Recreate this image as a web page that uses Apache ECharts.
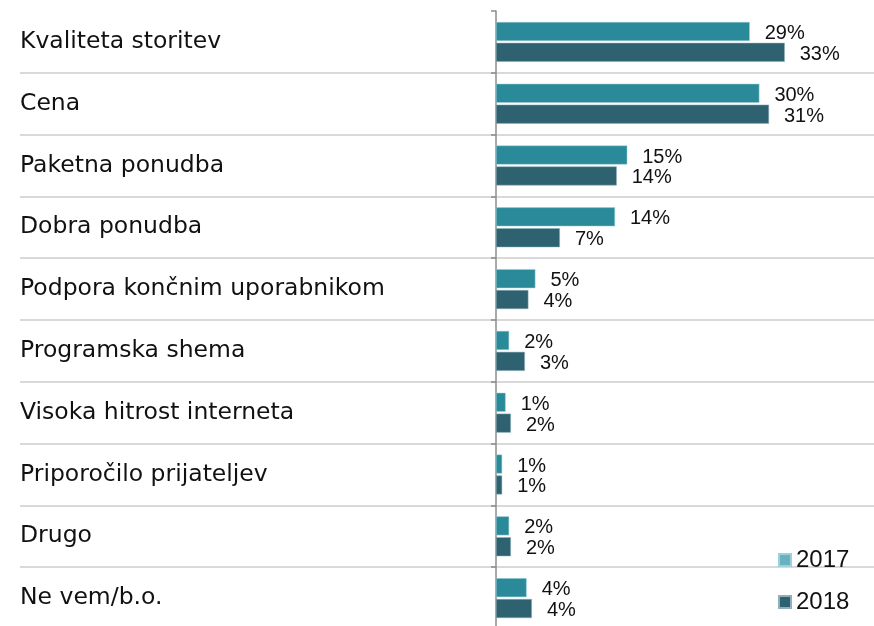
<!DOCTYPE html>
<html>
<head>
<meta charset="utf-8">
<script src="https://cdn.jsdelivr.net/npm/echarts@6/dist/echarts.min.js"></script>
<style>
  html, body { margin: 0; padding: 0; background: #fff; }
  #chart { width: 874px; height: 626px; }
</style>
</head>
<body>
<div id="chart"></div>
<script>
// kategorije in vrednosti (odčitano s slike)
var categories = ['Kvaliteta storitev', 'Cena', 'Paketna ponudba', 'Dobra ponudba',
    'Podpora končnim uporabnikom', 'Programska shema', 'Visoka hitrost interneta',
    'Priporočilo prijateljev', 'Drugo', 'Ne vem/b.o.'];
var years = ['2017', '2018'];
var values2017 = [29.0, 30.1, 15.0, 13.6, 4.5, 1.5, 1.1, 0.7, 1.5, 3.5];
var values2018 = [33.0, 31.2, 13.8, 7.3, 3.7, 3.3, 1.7, 0.7, 1.7, 4.1];

var labelStyle = {
    show: true,
    position: 'right',
    distance: 15,
    offset: [0, 2],
    color: '#111',
    fontFamily: 'Liberation Sans',
    fontSize: 20,
    formatter: function (p) { return Math.round(p.value) + '%'; }
};

var chart = echarts.init(document.getElementById('chart'));
var option = {
    animation: false,
    grid: { left: 20, right: 0, top: 11, bottom: -3, outerBoundsMode: 'none', containLabel: false },
    legend: {
        orient: 'vertical',
        left: 773,
        top: 543,
        icon: 'rect',
        itemWidth: 12,
        itemHeight: 12,
        itemGap: 18,
        textStyle: { fontFamily: 'Liberation Sans', fontSize: 24, color: '#111', lineHeight: 24 },
        data: [
            { name: '2017', itemStyle: { color: '#6AB0C3' } },
            { name: '2018', itemStyle: { color: '#2F6270' } }
        ]
    },
    xAxis: {
        type: 'value',
        min: -54.4,
        max: 43.2,
        show: false
    },
    yAxis: [
        {
            // os pri 0 s črticami in ločilnimi črtami
            type: 'category',
            inverse: true,
            data: categories,
            axisLine: { show: true, onZero: true, lineStyle: { color: '#8c8c8c', width: 1.5 } },
            axisTick: { show: true, length: 5, lineStyle: { color: '#8c8c8c', width: 1.5 } },
            axisLabel: { show: false },
            splitLine: {
                show: true,
                showMinLine: false,
                lineStyle: { color: '#d9d9d9', width: 2 }
            }
        },
        {
            // samo napisi kategorij na levi
            type: 'category',
            inverse: true,
            position: 'left',
            data: categories,
            axisLine: { show: false, onZero: false },
            axisTick: { show: false },
            splitLine: { show: false },
            axisLabel: {
                align: 'left',
                margin: 0,
                color: '#111',
                fontFamily: 'DejaVu Sans',
                fontSize: 23.5
            }
        }
    ],
    series: [
        {
            name: years[0],
            type: 'bar',
            data: values2017,
            barWidth: 19,
            barGap: '10%',
            itemStyle: { color: '#2B8A9A', borderColor: '#9fd0d8', borderWidth: 0.5 },
            label: labelStyle
        },
        {
            name: years[1],
            type: 'bar',
            data: values2018,
            barWidth: 19,
            barGap: '10%',
            itemStyle: { color: '#2F6270', borderColor: '#8fb0b8', borderWidth: 0.5 },
            label: labelStyle
        }
    ]
};
chart.setOption(option);
</script>
</body>
</html>
